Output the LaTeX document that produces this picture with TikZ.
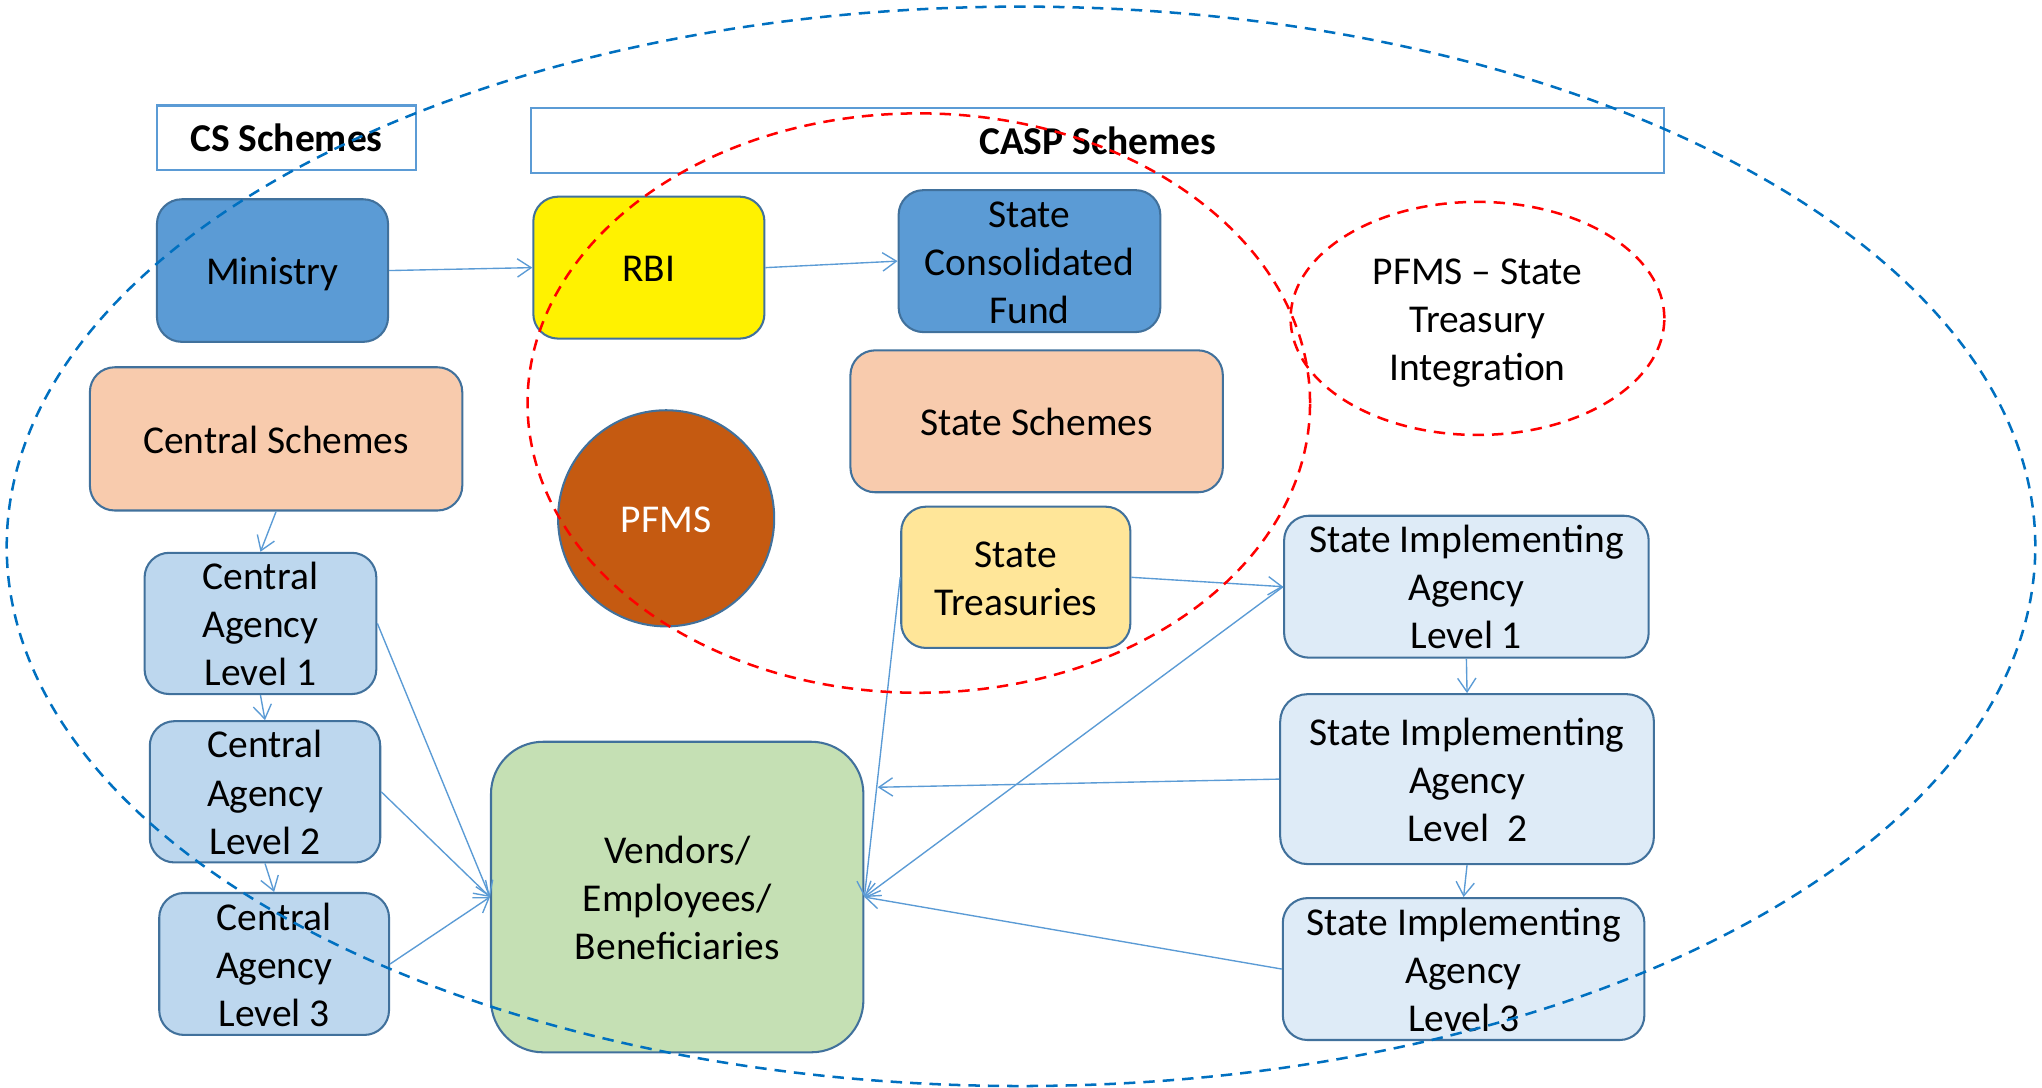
\documentclass[tikz,border=0pt]{standalone}
\usepackage{fontspec}
\setmainfont{Carlito}
\usetikzlibrary{arrows.meta,shapes.geometric}
\definecolor{cBord}{HTML}{41719C}
\definecolor{cConn}{HTML}{5B9BD5}
\definecolor{cMid}{HTML}{5B9BD5}
\definecolor{cPeach}{HTML}{F8CBAD}
\definecolor{cPfms}{HTML}{C55A11}
\definecolor{cTreas}{HTML}{FFE699}
\definecolor{cCal}{HTML}{BDD7EE}
\definecolor{cSia}{HTML}{DEEBF7}
\definecolor{cVend}{HTML}{C5E0B4}
\definecolor{cBlueDash}{HTML}{0070C0}
\definecolor{cRedDash}{HTML}{FF0000}
\newcommand\tx[1]{\rule{0pt}{16pt}#1\rule[-3.6pt]{0pt}{3.6pt}}
\begin{document}
\begin{tikzpicture}[x=0.02cm,y=-0.02cm,
  txt/.style={font=\fontsize{17.25}{21}\selectfont, align=center, inner sep=0pt},
  rbox/.style={txt, rectangle, draw=cBord, line width=0.9pt, rounded corners=0.38cm},
  hbox/.style={txt, rectangle, draw=cConn, line width=0.9pt, fill=white, font=\fontsize{17.25}{21}\selectfont\bfseries},
  arr/.style={draw=cConn, line width=0.6pt, -{Straight Barb[length=6pt,width=8pt]}},
  bluedash/.style={draw=cBlueDash, line width=1.1pt, dash pattern=on 5pt off 3.5pt},
  reddash/.style={draw=cRedDash, line width=1.1pt, dash pattern=on 5pt off 3.5pt}
]
\useasboundingbox (0,0) rectangle (1568,835.4);

% headers
\node[hbox, minimum width=3.98cm, minimum height=0.99cm] (cs) at (220,105.75) {\tx{CS Schemes}};
\node[hbox, minimum width=17.4cm, minimum height=0.994cm] (casp) at (843,107.9) {\tx{CASP Schemes}};

% top row
\node[rbox, fill=cMid, minimum width=3.55cm, minimum height=2.19cm] (min) at (209.25,207.75) {\tx{Ministry}};
\node[rbox, fill=yellow, minimum width=3.55cm, minimum height=2.18cm] (rbi) at (498.25,205.5) {\tx{RBI}};
\node[rbox, fill=cMid, minimum width=4.02cm, minimum height=2.18cm] (scf) at (790.5,200.5) {\tx{State\\Consolidated\\Fund}};

% schemes
\node[rbox, fill=cPeach, minimum width=5.72cm, minimum height=2.2cm] (csch) at (212,337) {\tx{Central Schemes}};
\node[rbox, fill=cPeach, minimum width=5.72cm, minimum height=2.18cm] (ssch) at (796,323.5) {\tx{State Schemes}};

% PFMS
\node[txt, circle, draw=cBord, line width=0.9pt, fill=cPfms, text=white, minimum size=3.32cm] (pfms) at (511.5,398) {\tx{PFMS}};

% state treasuries
\node[rbox, fill=cTreas, minimum width=3.52cm, minimum height=2.17cm] (st) at (780,443.3) {\tx{State\\Treasuries}};

% state implementing agencies
\node[rbox, fill=cSia, minimum width=5.6cm, minimum height=2.18cm] (sia1) at (1126,450.5) {\tx{State Implementing\\Agency\\Level 1}};
\node[rbox, fill=cSia, minimum width=5.74cm, minimum height=2.61cm, rounded corners=0.42cm] (sia2) at (1126.5,598.25) {\tx{State Implementing\\Agency\\Level\ \ 2}};
\node[rbox, fill=cSia, minimum width=5.554cm, minimum height=2.18cm] (sia3) at (1123.85,744.1) {\tx{State Implementing\\Agency\\Level 3}};

% central agencies
\node[rbox, fill=cCal, minimum width=3.56cm, minimum height=2.17cm] (cal1) at (200,478.7) {\tx{Central\\Agency\\Level 1}};
\node[rbox, fill=cCal, minimum width=3.54cm, minimum height=2.17cm] (cal2) at (203.5,608) {\tx{Central\\Agency\\Level 2}};
\node[rbox, fill=cCal, minimum width=3.53cm, minimum height=2.18cm] (cal3) at (210.5,740.2) {\tx{Central\\Agency\\Level 3}};

% vendors
\node[rbox, fill=cVend, minimum width=5.72cm, minimum height=4.77cm, rounded corners=0.8cm] (vend) at (520,688.8) {\tx{Vendors/\\Employees/\\Beneficiaries}};
\coordinate (v2) at (674,604.5);

% connectors
\draw[arr] (min.east) -- (rbi.west);
\draw[arr] (rbi.east) -- (scf.west);
\draw[arr] (csch.south) -- (cal1.north);
\draw[arr] (cal1.south) -- (cal2.north);
\draw[arr] (cal2.south) -- (cal3.north);
\draw[arr] (cal1.east) -- (vend.west);
\draw[arr] (cal2.east) -- (vend.west);
\draw[arr] (cal3.east) -- (vend.west);
\draw[arr] (st.east) -- (sia1.west);
\draw[arr] (st.west) -- (vend.east);
\draw[arr] (sia1.west) -- (vend.east);
\draw[arr] (sia2.west) -- (v2);
\draw[arr] (sia3.west) -- (vend.east);
\draw[arr] (sia1.south) -- (sia2.north);
\draw[arr] (sia2.south) -- (sia3.north);

% dashed ellipses (on top)
\node[txt, ellipse, reddash, minimum width=5.74cm, minimum height=3.58cm] (integ) at (1134.5,244.5) {\tx{PFMS – State\\Treasury\\Integration}};
\draw[reddash] (705.5,309.5) ellipse [x radius=6.01cm, y radius=4.45cm];
\draw[bluedash] (784,419.5) ellipse [x radius=15.58cm, y radius=8.29cm];
\end{tikzpicture}
\end{document}
